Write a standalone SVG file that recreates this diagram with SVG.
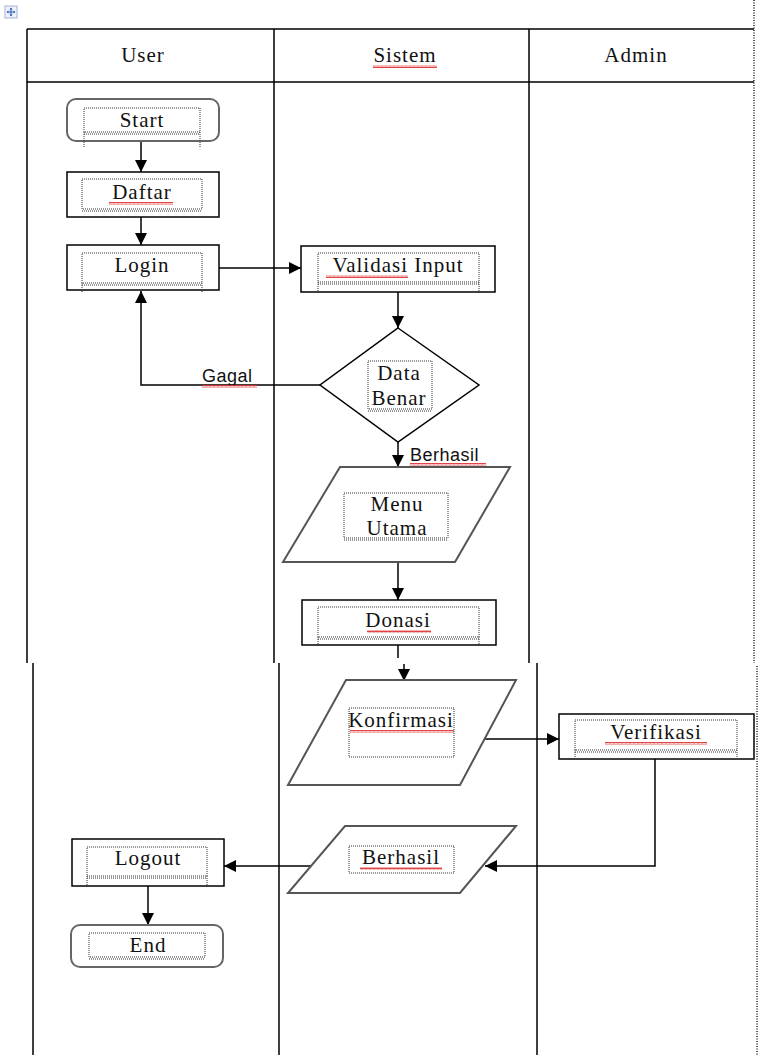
<svg xmlns="http://www.w3.org/2000/svg" width="765" height="1055" viewBox="0 0 765 1055">
<style>
.tbl{stroke:#000;stroke-width:1.5;fill:none}
.dot{stroke:#222;stroke-width:1.5;stroke-dasharray:1 1.5;fill:none}
.box{fill:#fff;stroke:#000;stroke-width:1.5}
.term{fill:#fff;stroke:#666;stroke-width:2}
.io{fill:#fff;stroke:#555;stroke-width:2}
.tb{stroke:#333;stroke-width:1;stroke-dasharray:1 1;fill:none}
.t{font-family:"Liberation Serif",serif;font-size:21px;letter-spacing:1px;fill:#111;text-anchor:middle}
.lbl{font-family:"Liberation Sans",sans-serif;font-size:18px;letter-spacing:0.5px;fill:#111}
.con{stroke:#000;stroke-width:1.5;fill:none}
.sq{fill:url(#squig)}
</style>
<defs>
<marker id="ah" markerUnits="userSpaceOnUse" markerWidth="12" markerHeight="12" viewBox="0 0 12 12" refX="12" refY="6" orient="auto">
<path d="M0,0 L12,6 L0,12 Z" fill="#000"/>
</marker>
<pattern id="squig" patternUnits="userSpaceOnUse" width="4" height="3">
<path d="M0,2.5 L1,0.5 L2,2.5 L3,0.5 L4,2.5" stroke="#e03030" stroke-width="0.9" fill="none"/>
</pattern>
</defs>
<rect width="765" height="1055" fill="#fff"/>

<g id="handle">
<rect x="5" y="6" width="12" height="12" fill="#eef3fb" stroke="#9fb4d8" stroke-width="1"/>
<path d="M11,8 V16 M7,12 H15" stroke="#3a63b5" stroke-width="1.2"/>
<path d="M11,7.5 L9.5,9.5 H12.5 Z M11,16.5 L9.5,14.5 H12.5 Z M6.5,12 L8.5,10.5 V13.5 Z M15.5,12 L13.5,10.5 V13.5 Z" fill="#3a63b5"/>
</g>

<g id="table">
<path class="tbl" d="M27,29 H754 M27,82 H754 M27,29 V663 M274,29 V663 M529,29 V663"/>
<path class="tbl" d="M33,663 V1055 M279,663 V1055 M537,663 V1055"/>
<path class="dot" d="M754,0 V663 M757,666 V1055"/>
<text class="t" x="143" y="62">User</text>
<text class="t" x="405" y="62">Sistem</text>
<rect class="sq" x="373" y="65" width="64" height="3"/>
<text class="t" x="636" y="62">Admin</text>
</g>

<g id="connectors">
<line class="con" x1="141" y1="141" x2="141" y2="172" marker-end="url(#ah)"/>
<line class="con" x1="141" y1="217" x2="141" y2="245" marker-end="url(#ah)"/>
<line class="con" x1="219" y1="268" x2="301" y2="268" marker-end="url(#ah)"/>
<line class="con" x1="398" y1="292" x2="398" y2="328" marker-end="url(#ah)"/>
<polyline class="con" points="320,385 141,385 141,291" marker-end="url(#ah)"/>
<line class="con" x1="398" y1="442" x2="398" y2="467" marker-end="url(#ah)"/>
<line class="con" x1="398" y1="562" x2="398" y2="600" marker-end="url(#ah)"/>
<line class="con" x1="398" y1="645" x2="398" y2="658"/>
<line class="con" x1="404" y1="664" x2="404" y2="681" marker-end="url(#ah)"/>
<line class="con" x1="485" y1="739" x2="559" y2="739" marker-end="url(#ah)"/>
<polyline class="con" points="655,759 655,866 485,866" marker-end="url(#ah)"/>
<line class="con" x1="314" y1="866" x2="224" y2="866" marker-end="url(#ah)"/>
<line class="con" x1="148" y1="886" x2="148" y2="925" marker-end="url(#ah)"/>
<text class="lbl" x="202" y="382">Gagal</text>
<rect class="sq" x="202" y="385" width="55" height="3"/>
<text class="lbl" x="410" y="461">Berhasil</text>
<rect class="sq" x="410" y="463" width="76" height="3"/>
</g>

<g id="start">
<rect class="term" x="67" y="99" width="152" height="42" rx="9"/>
<rect class="tb" x="84" y="108" width="116" height="24"/>
<path class="tb" d="M84,134 H200 M84,132 V148 M200,132 V148"/>
<text class="t" x="142" y="127">Start</text>
</g>

<g id="daftar">
<rect class="box" x="67" y="172" width="152" height="45"/>
<rect class="tb" x="82" y="179" width="120" height="30"/>
<path class="tb" d="M82,211 H202"/>
<text class="t" x="142" y="199">Daftar</text>
<rect class="sq" x="109" y="202" width="64" height="3"/>
</g>

<g id="login">
<rect class="box" x="67" y="245" width="152" height="45"/>
<rect class="tb" x="82" y="253" width="120" height="30"/>
<path class="tb" d="M82,285 H202 M82,283 V292 M202,283 V292"/>
<text class="t" x="142" y="272">Login</text>
</g>

<g id="validasi">
<rect class="box" x="301" y="246" width="194" height="46"/>
<rect class="tb" x="318" y="253" width="161" height="29"/>
<path class="tb" d="M318,284 H479 M318,282 V293 M479,282 V293"/>
<text class="t" x="398" y="272">Validasi Input</text>
<rect class="sq" x="326" y="275" width="82" height="3"/>
</g>

<g id="cek">
<polygon class="box" points="398,328 479,385 398,442 320,385"/>
<rect class="tb" x="368" y="361" width="64" height="48"/>
<path class="tb" d="M368,411 H432"/>
<text class="t" x="399" y="380">Data</text>
<text class="t" x="399" y="405">Benar</text>
</g>

<g id="menu">
<polygon class="io" points="340,467 510,467 455,562 283,562"/>
<rect class="tb" x="344" y="493" width="104" height="45"/>
<path class="tb" d="M344,540 H448"/>
<text class="t" x="397" y="511">Menu</text>
<text class="t" x="397" y="535">Utama</text>
</g>

<g id="donasi">
<rect class="box" x="302" y="600" width="194" height="45"/>
<rect class="tb" x="318" y="607" width="161" height="30"/>
<path class="tb" d="M318,639 H479 M318,637 V647 M479,637 V647"/>
<text class="t" x="398" y="627">Donasi</text>
<rect class="sq" x="367" y="630" width="64" height="3"/>
</g>

<g id="konfirmasi">
<polygon class="io" points="346,680 516,680 460,785 288,785"/>
<rect class="tb" x="349" y="708" width="105" height="49"/>
<text class="t" x="401" y="727">Konfirmasi</text>
<rect class="sq" x="350" y="730" width="104" height="3"/>
</g>

<g id="verifikasi">
<rect class="box" x="559" y="714" width="195" height="45"/>
<rect class="tb" x="575" y="720" width="162" height="30"/>
<path class="tb" d="M575,752 H737 M575,750 V758 M737,750 V758"/>
<text class="t" x="656" y="739">Verifikasi</text>
<rect class="sq" x="605" y="742" width="102" height="3"/>
</g>

<g id="berhasil">
<polygon class="io" points="345,826 516,826 460,893 288,893"/>
<rect class="tb" x="349" y="846" width="105" height="27"/>
<text class="t" x="401" y="864">Berhasil</text>
<rect class="sq" x="360" y="867" width="82" height="3"/>
</g>

<g id="logout">
<rect class="box" x="72" y="839" width="152" height="47"/>
<rect class="tb" x="87" y="847" width="120" height="29"/>
<path class="tb" d="M87,878 H207 M87,876 V887 M207,876 V887"/>
<text class="t" x="148" y="865">Logout</text>
</g>

<g id="end">
<rect class="term" x="71" y="925" width="152" height="42" rx="9"/>
<rect class="tb" x="89" y="933" width="116" height="24"/>
<path class="tb" d="M89,959 H205"/>
<text class="t" x="148" y="952">End</text>
</g>
</svg>
